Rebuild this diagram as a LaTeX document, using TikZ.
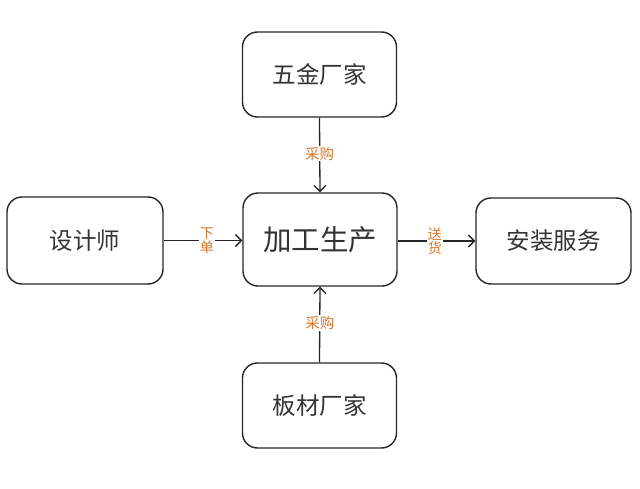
\documentclass[tikz,border=0pt]{standalone}
\usepackage{fontspec}
\setmainfont{Noto Sans CJK SC}
\usetikzlibrary{arrows.meta}
\definecolor{txt}{HTML}{333333}
\definecolor{lbl}{HTML}{D9732B}
\begin{document}
\begin{tikzpicture}[x=1pt,y=-1pt,
  box/.style={draw=black!85,line width=1.4pt,rounded corners=15pt,minimum width=154pt,minimum height=85pt,text=txt,font=\fontsize{23.5}{26}\selectfont,inner sep=0pt},
  conn/.style={draw=black!85,line width=1.3pt,-{Straight Barb[length=6pt,width=12pt,line width=1.3pt]}},
  lab/.style={fill=white,text=lbl,font=\fontsize{14.5}{15}\selectfont,inner sep=1pt,align=center}]
\useasboundingbox (0,0) rectangle (640,489);
\node[box] (top) at (319.5,74.5) {五金厂家};
\node[box,minimum height=93pt,font=\fontsize{28.5}{32}\selectfont] (mid) at (320,239.5) {加工生产};
\node[box,minimum width=156pt,minimum height=87pt] (left) at (85,240.5) {设计师};
\node[box,minimum width=155pt,minimum height=86pt] (right) at (553.5,241) {安装服务};
\node[box] (bot) at (319.5,405.5) {板材厂家};
\draw[conn] (top.south) -- node[lab,pos=0.48] {采购} (mid.north);
\draw[conn] (bot.north) -- node[lab,pos=0.52] {采购} (mid.south);
\draw[conn] (left.east) -- node[lab,pos=0.55,font=\fontsize{14}{12.5}\selectfont] {下\\单} (mid.west|-left.east);
\draw[conn] (mid.east|-right.west) -- node[lab,pos=0.48,font=\fontsize{14}{12.5}\selectfont] {送\\货} (right.west);
\end{tikzpicture}
\end{document}
